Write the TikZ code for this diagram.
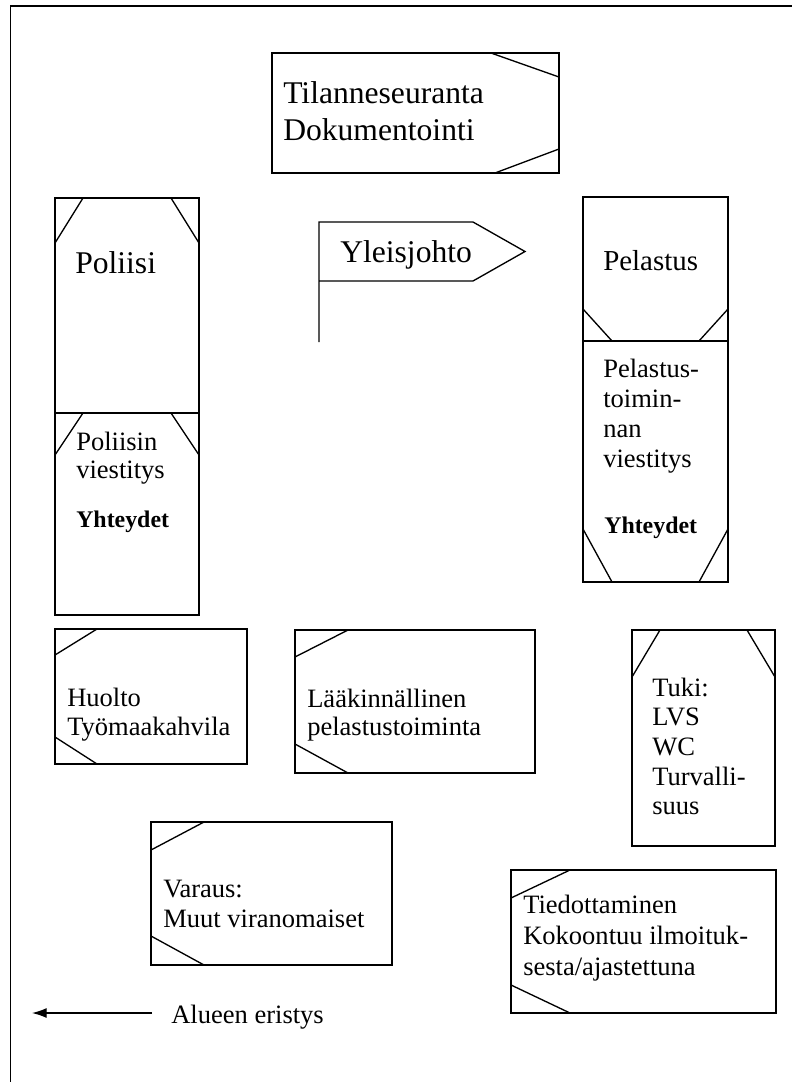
\documentclass[tikz,border=0pt]{standalone}
\usepackage{fontspec}
\setmainfont{Liberation Serif}
\usetikzlibrary{calc,arrows.meta}

% multi-line text whose baseline is the first line
\newcommand\textrows[1]{\begin{tabular}[t]{@{}l@{}}#1\end{tabular}}

\begin{document}
\begin{tikzpicture}[x=0.75pt,y=-0.75pt,
  frame/.style={line width=1.3pt},
  panel/.style={draw, line width=1pt, rectangle, inner sep=0pt, outer sep=0pt},
  cut/.style={line width=1pt},
  txt/.style={inner sep=0pt, anchor=base west},
  large/.style={txt, font=\fontsize{23.7}{#1}\selectfont},
  large/.default=27.75,
  medium/.style={txt, font=\fontsize{21.7}{26}\selectfont},
  small/.style={txt, font=\fontsize{19.9}{#1}\selectfont},
  small/.default=22.5,
  strong/.style={txt, font=\fontsize{17.9}{21}\selectfont\bfseries},
]
\useasboundingbox (0,0) rectangle (792,1082);

% outer frame (open to the right and bottom)
\draw[frame] (10.5,1082) -- (10.5,6) -- (792,6);

% --- situation tracking ---
\node[panel, minimum width=215.25pt, minimum height=90pt] (track) at (415.5,113) {};
\draw[cut] ($(track.north east)+(-68,0)$) -- ($(track.north east)+(0,24)$);
\draw[cut] ($(track.south east)+(-64,0)$) -- ($(track.south east)+(0,-24)$);
\node[large] (tracktext) at (283,103) {\textrows{Tilanneseuranta\\Dokumentointi}};

% --- police ---
\node[panel, minimum width=108pt, minimum height=161.25pt] (police) at (127,305.5) {};
\node[panel, minimum width=108pt, minimum height=151.5pt] (policecom) at (127,514) {};
\draw[cut] ($(police.north west)+(28,0)$) -- ($(police.north west)+(0,45)$);
\draw[cut] ($(police.north east)+(-28,0)$) -- ($(police.north east)+(0,45)$);
\draw[cut] ($(policecom.north west)+(28,0)$) -- ($(policecom.north west)+(0,42)$);
\draw[cut] ($(policecom.north east)+(-28,0)$) -- ($(policecom.north east)+(0,42)$);
\node[large] (policetext) at (75,273) {Poliisi};
\node[small=21] (policecomtext) at (76,450) {\textrows{Poliisin\\viestitys}};
\node[strong] (policelinks) at (76,527) {Yhteydet};

% --- general command flag ---
\coordinate (poletop) at (319,222);
\coordinate (polefoot) at (319,342);
\draw[cut] (polefoot) -- (poletop) -- (473,222) -- (525,251.5) -- (473,281) -- (319,281);
\node[large] (command) at (340,262) {Yleisjohto};

% --- rescue ---
\node[panel, minimum width=108.75pt, minimum height=108pt] (rescue) at (655.5,269) {};
\node[panel, minimum width=108.75pt, minimum height=180.75pt] (rescuecom) at (655.5,461.5) {};
\draw[cut] ($(rescue.south west)+(0,-32)$) -- ($(rescue.south west)+(29,0)$);
\draw[cut] ($(rescue.south east)+(0,-32)$) -- ($(rescue.south east)+(-29,0)$);
\draw[cut] ($(rescuecom.south west)+(0,-53)$) -- ($(rescuecom.south west)+(29,0)$);
\draw[cut] ($(rescuecom.south east)+(0,-53)$) -- ($(rescuecom.south east)+(-29,0)$);
\node[medium] (rescuetext) at (603,270) {Pelastus};
\node[small=22.7] (rescuecomtext) at (603,377) {\textrows{Pelastus-\\toimin-\\nan\\viestitys}};
\node[strong] (rescuelinks) at (604,533) {Yhteydet};

% --- maintenance ---
\node[panel, minimum width=144pt, minimum height=101.25pt] (supply) at (151,696.5) {};
\draw[cut] ($(supply.north west)+(42,0)$) -- ($(supply.north west)+(0,26)$);
\draw[cut] ($(supply.south west)+(0,-27)$) -- ($(supply.south west)+(42,0)$);
\node[small=21.75] (supplytext) at (67,706) {\textrows{Huolto\\Työmaakahvila}};

% --- medical rescue ---
\node[panel, minimum width=180pt, minimum height=107.25pt] (medical) at (415,701.5) {};
\draw[cut] ($(medical.north west)+(53,0)$) -- ($(medical.north west)+(0,27)$);
\draw[cut] ($(medical.south west)+(0,-29)$) -- ($(medical.south west)+(53,0)$);
\node[small=21] (medicaltext) at (307,707) {\textrows{Lääkinnällinen\\pelastustoiminta}};

% --- support ---
\node[panel, minimum width=107.25pt, minimum height=162pt] (support) at (703.5,738) {};
\draw[cut] ($(support.north west)+(28,0)$) -- ($(support.north west)+(0,47)$);
\draw[cut] ($(support.north east)+(-28,0)$) -- ($(support.north east)+(0,47)$);
\node[small=22.3] (supporttext) at (652,696) {\textrows{Tuki:\\LVS\\WC\\Turvalli-\\suus}};

% --- reserve ---
\node[panel, minimum width=180.75pt, minimum height=107.25pt] (reserve) at (271.5,893.5) {};
\draw[cut] ($(reserve.north west)+(53,0)$) -- ($(reserve.north west)+(0,28)$);
\draw[cut] ($(reserve.south west)+(0,-29)$) -- ($(reserve.south west)+(53,0)$);
\node[small] (reservetext) at (163,897) {\textrows{Varaus:\\Muut viranomaiset}};

% --- public information ---
\node[panel, minimum width=198.75pt, minimum height=107.25pt] (inform) at (643.5,941.5) {};
\draw[cut] ($(inform.north west)+(59,0)$) -- ($(inform.north west)+(0,28)$);
\draw[cut] ($(inform.south west)+(0,-28)$) -- ($(inform.south west)+(59,0)$);
\node[small=23.25] (informtext) at (523,913) {\textrows{Tiedottaminen\\Kokoontuu ilmoituk-\\sesta/ajastettuna}};

% --- area isolation ---
\coordinate (fencefrom) at (152,1013);
\coordinate (fenceto) at (32,1013);
\draw[cut, -{Latex[length=11pt,width=7.5pt]}] (fencefrom) -- (fenceto);
\node[small] (fencetext) at (171,1023) {Alueen eristys};
\end{tikzpicture}
\end{document}
